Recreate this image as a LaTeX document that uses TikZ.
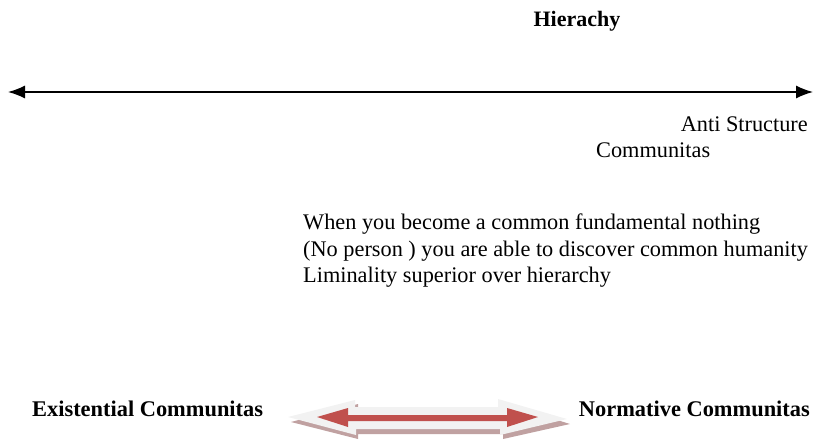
\documentclass[tikz,border=0pt]{standalone}
\usepackage{fontspec}
\setmainfont{Liberation Serif}
\usetikzlibrary{arrows.meta}
\definecolor{arrred}{HTML}{C0504D}
\definecolor{arrlight}{HTML}{F2F2F2}
\definecolor{arrshade}{HTML}{B08A8A}
\begin{document}
\begin{tikzpicture}[x=1pt,y=-1pt,txt/.style={inner sep=0,font=\fontsize{22.3}{26.5}\selectfont},
  bld/.style={txt,font=\fontsize{22}{26}\selectfont\bfseries}]
\useasboundingbox (0,0) rectangle (813,439);
\coordinate (HL) at (8,92);
\coordinate (HR) at (813,92);
\draw[line width=1.3,{Latex[length=17,width=13]}-{Latex[length=17,width=13]}] (HL) -- (HR);
\node[bld,anchor=base] (H) at (577,27) {Hierachy};
\node[txt,anchor=base east] (AS) at (808,131) {Anti Structure};
\node[txt,anchor=base west] (CM) at (596,157) {Communitas};
\node[txt,anchor=north west,align=left] (P) at (303,214) {When you become a common fundamental nothing\\(No person ) you are able to discover common humanity\\Liminality superior over hierarchy};
\node[bld,anchor=base west,font=\fontsize{22.4}{26}\selectfont\bfseries] (EC) at (32,416) {Existential Communitas};
\node[bld,anchor=base east,font=\fontsize{22.4}{26}\selectfont\bfseries] (NC) at (810,416) {Normative Communitas};
% double arrow between the two kinds
\fill[arrshade,opacity=0.8] (291,422) -- (358,404) -- (358,412) -- (500,412) -- (502,403) -- (570,424) -- (503,439) -- (503,434) -- (358,434) -- (358,439) -- cycle;
\fill[arrlight] (288,417) -- (355,400) -- (355,407) -- (498,407) -- (498,399) -- (567,419) -- (500,435) -- (500,429) -- (356,429) -- (356,435) -- cycle;
\fill[arrred] (317,417) -- (348,408) -- (348,415) -- (507,415) -- (507,408) -- (538,417) -- (507,427) -- (507,421) -- (348,421) -- (348,427) -- cycle;
\end{tikzpicture}
\end{document}
